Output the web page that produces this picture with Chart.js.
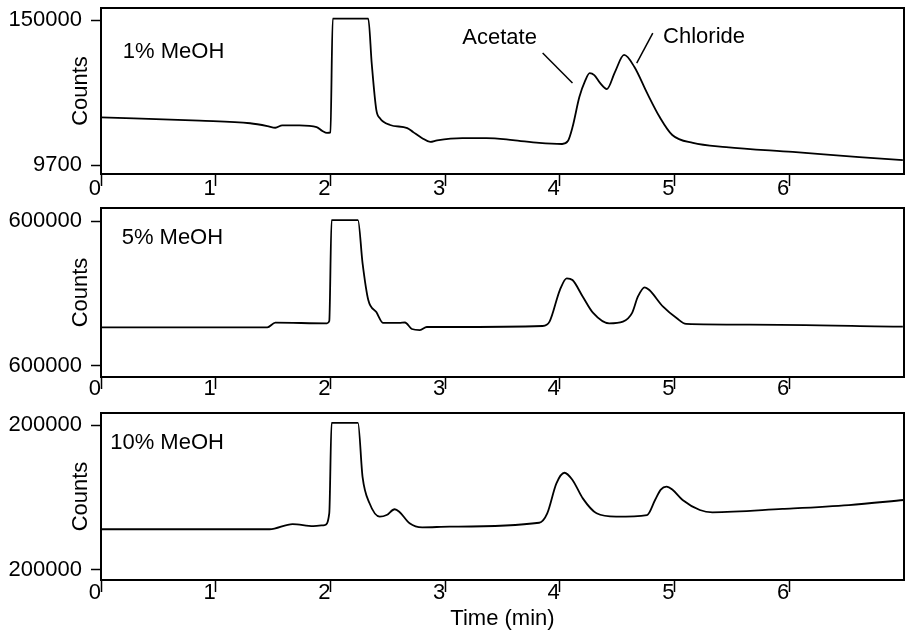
<!DOCTYPE html>
<html>
<head>
<meta charset="utf-8">
<script src="https://cdn.jsdelivr.net/npm/chart.js@4.4.1/dist/chart.umd.min.js"></script>
<style>
  body { margin: 0; background: #fff; }
  #wrap { position: relative; width: 905px; height: 634px; }
  .panel { position: absolute; left: 0; }
</style>
</head>
<body>
<div id="wrap">
  <div class="panel" style="top:0px"><canvas id="c1" width="905" height="200"></canvas></div>
  <div class="panel" style="top:200px"><canvas id="c2" width="905" height="200"></canvas></div>
  <div class="panel" style="top:400px"><canvas id="c3" width="905" height="234"></canvas></div>
</div>
<script>
// x axis ticks (minutes)
var xTicks = [0, 1, 2, 3, 4, 5, 6];
// y ticks sit at 0 and 100 of the relative signal scale
var yTickPos = [0, 100];
var yLabels1 = ['9700', '150000'];
var yLabels2 = ['600000', '600000'];
var yLabels3 = ['200000', '200000'];

// 1% MeOH
var time1 = [0, 0.86, 1.30, 1.45, 1.52, 1.58, 1.73, 1.88, 1.93, 1.97, 2.0, 2.02, 2.33, 2.36, 2.40, 2.43, 2.52, 2.67, 2.72, 2.80, 2.87, 2.93,
             3.15, 3.36, 3.59, 3.82, 4.02, 4.07, 4.11, 4.17, 4.22, 4.26, 4.30, 4.35, 4.41, 4.48, 4.56, 4.65, 4.76, 4.87, 4.98,
             5.16, 5.45, 6.03, 6.61, 6.99];
var signal1 = [32.9, 30.6, 28.8, 26.9, 25.7, 27.4, 27.4, 26.2, 23.5, 22.1, 22.5, 101, 101, 70, 38, 32.4, 27.6, 25.5, 22.8, 18.5, 15.9, 17.0,
               18.6, 18.6, 17.2, 15.2, 14.5, 16.5, 26, 46.9, 58, 63.4, 62, 56.6, 52.4, 64.1, 75.9, 67.6, 49.7, 33.1, 20.7,
               15.2, 12.4, 9.0, 5.5, 3.4];

// 5% MeOH
var time2 = [0, 1.45, 1.52, 1.97, 1.99, 2.01, 2.24, 2.28, 2.33, 2.40, 2.46, 2.60, 2.65, 2.71, 2.78, 2.84, 3.04, 3.85, 3.91,
             4.0, 4.06, 4.11, 4.20, 4.29, 4.43, 4.55, 4.63, 4.68, 4.74, 4.78, 4.90, 5.02, 5.10, 5.65, 6.99];
var signal2 = [26.7, 26.7, 29.9, 29.4, 31, 100.7, 100.7, 71, 45.5, 37.2, 29.7, 29.7, 30.0, 25.5, 24.8, 26.9, 26.9, 27.6, 30.6,
               52.4, 60.5, 59.3, 47.8, 36.6, 29.4, 30.6, 36.6, 47.8, 54.3, 52.4, 40.9, 32.9, 29.0, 28.5, 27.1];

// 10% MeOH
var time3 = [0, 1.47, 1.67, 1.85, 1.95, 1.99, 2.01, 2.24, 2.28, 2.34, 2.43, 2.49, 2.56, 2.60, 2.69, 2.80, 3.04, 3.82, 3.89,
             3.97, 4.04, 4.11, 4.20, 4.32, 4.49, 4.76, 4.83, 4.88, 4.93, 4.98, 5.07, 5.22, 5.33, 5.94, 6.52, 7.0];
var signal3 = [28.1, 28.1, 31.7, 30.3, 31.0, 39.3, 101.5, 101.5, 64.3, 46.2, 36.8, 37.9, 41.9, 40.2, 32.2, 29.4, 29.9, 32.6, 39.1,
               59.8, 67.1, 62.1, 49.4, 39.1, 36.8, 37.9, 48.3, 55.5, 57.5, 55.5, 48.3, 41.4, 39.8, 42.1, 44.8, 48.3];

var FONT = 'Liberation Sans, Arial, Helvetica, sans-serif';
Chart.defaults.font.family = FONT;
Chart.defaults.font.size = 22;
Chart.defaults.color = '#000';

// box round the plot area
var framePlugin = {
  id: 'frame',
  afterDraw: function (chart) {
    var a = chart.chartArea, ctx = chart.ctx;
    ctx.save();
    ctx.strokeStyle = '#000';
    ctx.lineWidth = 2;
    ctx.strokeRect(a.left, a.top, a.right - a.left, a.bottom - a.top);
    ctx.restore();
  }
};

// panel labels and peak names, placed in data units
var textPlugin = {
  id: 'panelText',
  afterDatasetsDraw: function (chart, args, opts) {
    var ctx = chart.ctx, xs = chart.scales.x, ys = chart.scales.y;
    ctx.save();
    ctx.fillStyle = '#000';
    ctx.strokeStyle = '#000';
    ctx.lineWidth = 1.5;
    ctx.font = '22px ' + FONT;
    ctx.textBaseline = 'middle';
    ctx.textAlign = 'left';
    (opts.labels || []).forEach(function (l) {
      ctx.fillText(l.text, xs.getPixelForValue(l.x), ys.getPixelForValue(l.y));
    });
    (opts.lines || []).forEach(function (l) {
      ctx.beginPath();
      ctx.moveTo(xs.getPixelForValue(l[0]), ys.getPixelForValue(l[1]));
      ctx.lineTo(xs.getPixelForValue(l[2]), ys.getPixelForValue(l[3]));
      ctx.stroke();
    });
    ctx.restore();
  }
};

function makePanel(id, times, values, yLabels, cfg) {
  var pts = times.map(function (t, i) { return {x: t, y: values[i]}; });
  return new Chart(document.getElementById(id), {
    type: 'line',
    data: {
      datasets: [{
        data: pts,
        borderColor: '#000',
        borderWidth: 1.8,
        pointRadius: 0,
        fill: false,
        cubicInterpolationMode: 'monotone'
      }]
    },
    options: {
      responsive: false,
      animation: false,
      layout: {padding: {top: cfg.top, right: 1, left: 0, bottom: 0}},
      plugins: {
        legend: {display: false},
        tooltip: {enabled: false},
        panelText: {labels: cfg.labels, lines: cfg.lines || []}
      },
      scales: {
        x: {
          type: 'linear', min: 0, max: 7,
          afterBuildTicks: function (s) { s.ticks = xTicks.map(function (v) { return {value: v}; }); },
          afterFit: function (s) { s.height = cfg.xh; s.paddingLeft = 0; s.paddingRight = 0; },
          ticks: {align: 'end', padding: cfg.xpad, maxRotation: 0, autoSkip: false,
                  callback: function (v) { return String(v); }},
          grid: {drawOnChartArea: false, tickLength: 12, tickColor: '#000', tickWidth: 1.5},
          border: {display: false},
          title: {display: !!cfg.xTitle, text: cfg.xTitle, padding: {top: 0, bottom: 2}}
        },
        y: {
          min: cfg.yMin, max: cfg.yMax,
          afterBuildTicks: function (s) { s.ticks = yTickPos.map(function (v) { return {value: v}; }); },
          afterFit: function (s) { s.width = 101; s.paddingTop = 0; s.paddingBottom = 0; },
          ticks: {padding: 9, callback: function (v, i) { return yLabels[i]; }},
          grid: {drawOnChartArea: false, tickLength: 10, tickColor: '#000', tickWidth: 1.5},
          border: {display: false},
          title: {display: true, text: 'Counts', padding: {top: 68, bottom: 0}}
        }
      }
    },
    plugins: [framePlugin, textPlugin]
  });
}

makePanel('c1', time1, signal1, yLabels1, {
  top: 8, xh: 26, xpad: -10, yMin: -6.2, yMax: 108.3,
  labels: [{x: 0.19, y: 78, text: '1% MeOH'}, {x: 3.15, y: 87.6, text: 'Acetate'}, {x: 4.90, y: 88.3, text: 'Chloride'}],
  lines: [[3.85, 77.2, 4.11, 56.6], [4.81, 91, 4.67, 70.3]]
});
makePanel('c2', time2, signal2, yLabels2, {
  top: 8, xh: 23, xpad: -13, yMin: -7.6, yMax: 109,
  labels: [{x: 0.18, y: 88.3, text: '5% MeOH'}]
});
makePanel('c3', time3, signal3, yLabels3, {
  top: 13, xh: 54, xpad: -12, yMin: -6.9, yMax: 108.3, xTitle: 'Time (min)',
  labels: [{x: 0.08, y: 87.6, text: '10% MeOH'}]
});
</script>
</body>
</html>
